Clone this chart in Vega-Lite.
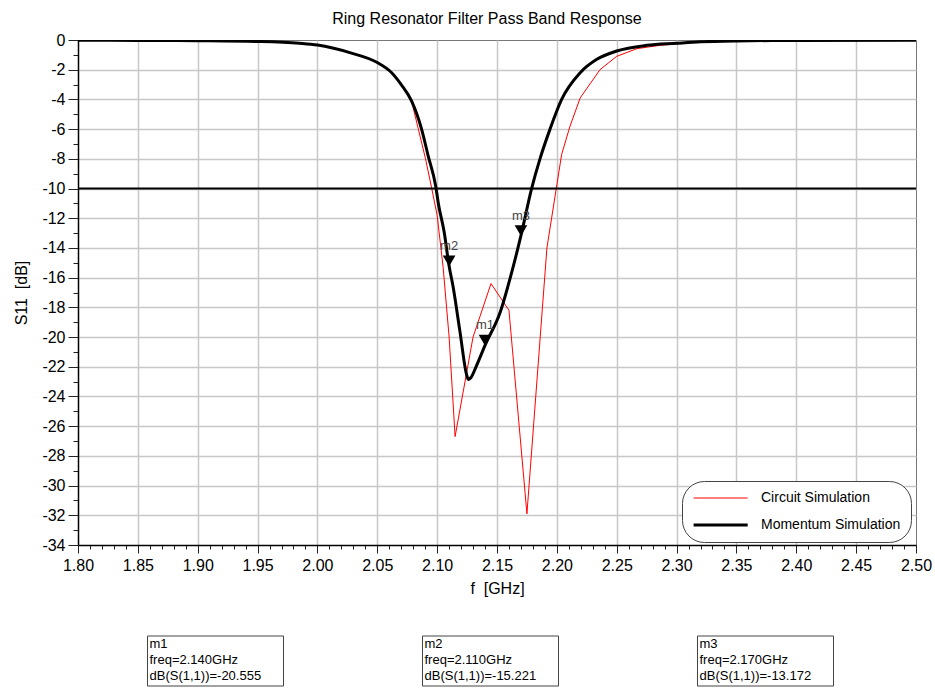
{
  "$schema": "https://vega.github.io/schema/vega-lite/v6.json",
  "background": "white",
  "padding": {"left": 13, "top": 10, "right": 5, "bottom": 2},
  "spacing": 38,
  "config": {"view": {"stroke": null}},
  "datasets": {
    "circuit": [
      {"series": "Circuit Simulation", "f": 1.80, "s11": -0.02},
      {"series": "Circuit Simulation", "f": 1.85, "s11": -0.03},
      {"series": "Circuit Simulation", "f": 1.90, "s11": -0.05},
      {"series": "Circuit Simulation", "f": 1.95, "s11": -0.11},
      {"series": "Circuit Simulation", "f": 1.985, "s11": -0.22},
      {"series": "Circuit Simulation", "f": 2.000, "s11": -0.32},
      {"series": "Circuit Simulation", "f": 2.015, "s11": -0.55},
      {"series": "Circuit Simulation", "f": 2.027, "s11": -0.85},
      {"series": "Circuit Simulation", "f": 2.040, "s11": -1.15},
      {"series": "Circuit Simulation", "f": 2.050, "s11": -1.50},
      {"series": "Circuit Simulation", "f": 2.062, "s11": -2.20},
      {"series": "Circuit Simulation", "f": 2.070, "s11": -3.00},
      {"series": "Circuit Simulation", "f": 2.0786, "s11": -4.10},
      {"series": "Circuit Simulation", "f": 2.0843, "s11": -6.00},
      {"series": "Circuit Simulation", "f": 2.0903, "s11": -8.00},
      {"series": "Circuit Simulation", "f": 2.0955, "s11": -10.0},
      {"series": "Circuit Simulation", "f": 2.100, "s11": -11.8},
      {"series": "Circuit Simulation", "f": 2.105, "s11": -15.3},
      {"series": "Circuit Simulation", "f": 2.110, "s11": -20.0},
      {"series": "Circuit Simulation", "f": 2.115, "s11": -26.7},
      {"series": "Circuit Simulation", "f": 2.130, "s11": -20.0},
      {"series": "Circuit Simulation", "f": 2.145, "s11": -16.4},
      {"series": "Circuit Simulation", "f": 2.160, "s11": -18.2},
      {"series": "Circuit Simulation", "f": 2.175, "s11": -31.9},
      {"series": "Circuit Simulation", "f": 2.1917, "s11": -14.0},
      {"series": "Circuit Simulation", "f": 2.204, "s11": -7.7},
      {"series": "Circuit Simulation", "f": 2.211, "s11": -5.8},
      {"series": "Circuit Simulation", "f": 2.2195, "s11": -3.9},
      {"series": "Circuit Simulation", "f": 2.236, "s11": -2.0},
      {"series": "Circuit Simulation", "f": 2.250, "s11": -1.1},
      {"series": "Circuit Simulation", "f": 2.267, "s11": -0.58},
      {"series": "Circuit Simulation", "f": 2.286, "s11": -0.36},
      {"series": "Circuit Simulation", "f": 2.320, "s11": -0.12},
      {"series": "Circuit Simulation", "f": 2.350, "s11": -0.06},
      {"series": "Circuit Simulation", "f": 2.400, "s11": -0.03},
      {"series": "Circuit Simulation", "f": 2.500, "s11": -0.02}
    ],
    "momentum": [
      {"series": "Momentum Simulation", "f": 1.80, "s11": -0.02},
      {"series": "Momentum Simulation", "f": 1.85, "s11": -0.03},
      {"series": "Momentum Simulation", "f": 1.90, "s11": -0.05},
      {"series": "Momentum Simulation", "f": 1.95, "s11": -0.10},
      {"series": "Momentum Simulation", "f": 1.985, "s11": -0.22},
      {"series": "Momentum Simulation", "f": 2.000, "s11": -0.34},
      {"series": "Momentum Simulation", "f": 2.027, "s11": -0.85},
      {"series": "Momentum Simulation", "f": 2.050, "s11": -1.52},
      {"series": "Momentum Simulation", "f": 2.062, "s11": -2.2},
      {"series": "Momentum Simulation", "f": 2.070, "s11": -3.0},
      {"series": "Momentum Simulation", "f": 2.0786, "s11": -4.1},
      {"series": "Momentum Simulation", "f": 2.087, "s11": -6.0},
      {"series": "Momentum Simulation", "f": 2.0925, "s11": -7.8},
      {"series": "Momentum Simulation", "f": 2.0987, "s11": -9.8},
      {"series": "Momentum Simulation", "f": 2.101, "s11": -11.0},
      {"series": "Momentum Simulation", "f": 2.1058, "s11": -12.9},
      {"series": "Momentum Simulation", "f": 2.110, "s11": -15.22},
      {"series": "Momentum Simulation", "f": 2.1133, "s11": -16.6},
      {"series": "Momentum Simulation", "f": 2.119, "s11": -19.6},
      {"series": "Momentum Simulation", "f": 2.1245, "s11": -22.5},
      {"series": "Momentum Simulation", "f": 2.126, "s11": -22.85},
      {"series": "Momentum Simulation", "f": 2.128, "s11": -22.75},
      {"series": "Momentum Simulation", "f": 2.133, "s11": -21.9},
      {"series": "Momentum Simulation", "f": 2.140, "s11": -20.555},
      {"series": "Momentum Simulation", "f": 2.1528, "s11": -18.3},
      {"series": "Momentum Simulation", "f": 2.1611, "s11": -16.0},
      {"series": "Momentum Simulation", "f": 2.170, "s11": -13.172},
      {"series": "Momentum Simulation", "f": 2.1789, "s11": -10.0},
      {"series": "Momentum Simulation", "f": 2.1859, "s11": -8.0},
      {"series": "Momentum Simulation", "f": 2.1943, "s11": -6.0},
      {"series": "Momentum Simulation", "f": 2.204, "s11": -4.0},
      {"series": "Momentum Simulation", "f": 2.2195, "s11": -2.2},
      {"series": "Momentum Simulation", "f": 2.2334, "s11": -1.3},
      {"series": "Momentum Simulation", "f": 2.250, "s11": -0.74},
      {"series": "Momentum Simulation", "f": 2.275, "s11": -0.36},
      {"series": "Momentum Simulation", "f": 2.300, "s11": -0.22},
      {"series": "Momentum Simulation", "f": 2.320, "s11": -0.12},
      {"series": "Momentum Simulation", "f": 2.350, "s11": -0.06},
      {"series": "Momentum Simulation", "f": 2.400, "s11": -0.03},
      {"series": "Momentum Simulation", "f": 2.500, "s11": -0.02}
    ],
    "markers": [
      {"marker": "m1", "f": 2.140, "s11": -20.555, "readout": "m1\nfreq=2.140GHz\ndB(S(1,1))=-20.555"},
      {"marker": "m2", "f": 2.110, "s11": -15.221, "readout": "m2\nfreq=2.110GHz\ndB(S(1,1))=-15.221"},
      {"marker": "m3", "f": 2.170, "s11": -13.172, "readout": "m3\nfreq=2.170GHz\ndB(S(1,1))=-13.172"}
    ]
  },
  "vconcat": [
    {
      "width": 838,
      "height": 505,
      "title": {"text": "Ring Resonator Filter Pass Band Response", "fontSize": 16, "font": "Liberation Sans", "fontWeight": "normal", "anchor": "middle", "frame": "group", "dx": -10, "offset": 5, "color": "black"},
      "view": {"stroke": "#777", "strokeWidth": 1},
      "layer": [
        {
          "data": {"name": "circuit"},
          "mark": {"type": "line", "strokeJoin": "round", "clip": true},
          "encoding": {
            "x": {
              "field": "f", "type": "quantitative",
              "scale": {"domain": [1.8, 2.5], "nice": false, "zero": false},
              "axis": {
                "title": "f\u00a0\u00a0[GHz]",
                "values": [1.80,1.81,1.82,1.83,1.84,1.85,1.86,1.87,1.88,1.89,1.90,1.91,1.92,1.93,1.94,1.95,1.96,1.97,1.98,1.99,2.00,2.01,2.02,2.03,2.04,2.05,2.06,2.07,2.08,2.09,2.10,2.11,2.12,2.13,2.14,2.15,2.16,2.17,2.18,2.19,2.20,2.21,2.22,2.23,2.24,2.25,2.26,2.27,2.28,2.29,2.30,2.31,2.32,2.33,2.34,2.35,2.36,2.37,2.38,2.39,2.40,2.41,2.42,2.43,2.44,2.45,2.46,2.47,2.48,2.49,2.50],
                "tickCount": 500,
                "labelExpr": "abs(datum.value*20 - round(datum.value*20)) < 0.01 ? format(datum.value, '.2f') : ''",
                "labelOverlap": false,
                "labelFlush": false,
                "tickSize": {"condition": {"test": "abs(datum.value*20 - round(datum.value*20)) < 0.01", "value": 8}, "value": 4},
                "grid": true,
                "gridOpacity": {"condition": {"test": "abs(datum.value*20 - round(datum.value*20)) < 0.01 && datum.value > 1.805 && datum.value < 2.495", "value": 1}, "value": 0},
                "gridColor": "#c8c8c8",
                "gridWidth": 1.5,
                "domainColor": "black",
                "domainWidth": 1.5,
                "tickColor": "#222",
                "tickWidth": 1,
                "labelFontSize": 16,
                "labelFont": "Liberation Sans",
                "labelColor": "black",
                "labelPadding": 4,
                "titleFontSize": 16,
                "titleFont": "Liberation Sans",
                "titleFontWeight": "normal",
                "titleColor": "black",
                "titlePadding": 7
              }
            },
            "y": {
              "field": "s11", "type": "quantitative",
              "scale": {"domain": [-34, 0], "nice": false, "zero": false},
              "axis": {
                "title": "S11\u00a0\u00a0[dB]",
                "values": [-34,-33,-32,-31,-30,-29,-28,-27,-26,-25,-24,-23,-22,-21,-20,-19,-18,-17,-16,-15,-14,-13,-12,-11,-10,-9,-8,-7,-6,-5,-4,-3,-2,-1,0],
                "tickCount": 500,
                "labelExpr": "datum.value % 2 == 0 ? ('' + datum.value) : ''",
                "labelOverlap": false,
                "tickSize": {"condition": {"test": "datum.value % 2 == 0", "value": 10}, "value": 5},
                "grid": true,
                "gridOpacity": {"condition": {"test": "datum.value % 2 == 0 && datum.value != 0 && datum.value != -34", "value": 1}, "value": 0},
                "gridColor": "#c8c8c8",
                "gridWidth": 1.5,
                "domainColor": "black",
                "domainWidth": 1.5,
                "tickColor": "#222",
                "tickWidth": 1,
                "labelFontSize": 16,
                "labelFont": "Liberation Sans",
                "labelColor": "black",
                "labelPadding": 3,
                "titleFontSize": 16,
                "titleFont": "Liberation Sans",
                "titleFontWeight": "normal",
                "titleColor": "black",
                "titlePadding": 12
              }
            },
            "color": {
              "field": "series", "type": "nominal",
              "scale": {"domain": ["Circuit Simulation", "Momentum Simulation"], "range": ["#ff0000", "#000000"]},
              "legend": {"orient": "none", "legendX": 604, "legendY": 441, "title": null, "direction": "vertical", "strokeColor": "#444", "cornerRadius": 22, "padding": 10, "fillColor": "white", "symbolType": "M-1,0H9", "symbolSize": 117, "labelFontSize": 14, "labelFont": "Liberation Sans", "labelColor": "black", "rowPadding": 13, "labelOffset": 55}
            },
            "strokeWidth": {
              "field": "series", "type": "nominal",
              "scale": {"domain": ["Circuit Simulation", "Momentum Simulation"], "range": [1, 3]},
              "legend": {"orient": "none", "legendX": 604, "legendY": 441, "title": null, "direction": "vertical", "strokeColor": "#444", "cornerRadius": 22, "padding": 10, "fillColor": "white", "symbolType": "M-1,0H9", "symbolSize": 117, "labelFontSize": 14, "labelFont": "Liberation Sans", "labelColor": "black", "rowPadding": 13, "labelOffset": 55}
            }
          }
        },
        {
          "data": {"name": "momentum"},
          "mark": {"type": "line", "interpolate": "monotone", "strokeJoin": "round", "clip": true},
          "encoding": {
            "x": {"field": "f", "type": "quantitative"},
            "y": {"field": "s11", "type": "quantitative"},
            "color": {"field": "series", "type": "nominal"},
            "strokeWidth": {"field": "series", "type": "nominal"}
          }
        },
        {
          "data": {"values": [{}]},
          "mark": {"type": "rule", "color": "black", "strokeWidth": 2},
          "encoding": {"y": {"datum": -10}}
        },
        {
          "data": {"name": "markers"},
          "mark": {"type": "point", "shape": "triangle-down", "filled": true, "color": "black", "opacity": 1, "size": 160, "yOffset": -5},
          "encoding": {
            "x": {"field": "f", "type": "quantitative"},
            "y": {"field": "s11", "type": "quantitative"}
          }
        },
        {
          "data": {"name": "markers"},
          "mark": {"type": "text", "fontSize": 13, "font": "Liberation Sans", "color": "#444", "yOffset": -20},
          "encoding": {
            "x": {"field": "f", "type": "quantitative"},
            "y": {"field": "s11", "type": "quantitative"},
            "text": {"field": "marker"}
          }
        }
      ]
    },
    {
      "width": 825,
      "height": 50,
      "data": {"name": "markers"},
      "view": {"stroke": null},
      "layer": [
        {
          "mark": {"type": "bar", "width": 136, "fill": "white", "stroke": "#444", "strokeWidth": 1},
          "encoding": {
            "x": {"field": "marker", "type": "nominal", "axis": null, "scale": {"domain": ["m1", "m2", "m3"], "paddingInner": 0, "paddingOuter": 0}}
          }
        },
        {
          "mark": {"type": "text", "align": "left", "baseline": "middle", "lineBreak": "\n", "xOffset": -66, "yOffset": -17, "fontSize": 13, "font": "Liberation Sans", "lineHeight": 16, "color": "black"},
          "encoding": {
            "x": {"field": "marker", "type": "nominal", "axis": null, "scale": {"domain": ["m1", "m2", "m3"], "paddingInner": 0, "paddingOuter": 0}},
            "text": {"field": "readout"}
          }
        }
      ]
    }
  ]
}
